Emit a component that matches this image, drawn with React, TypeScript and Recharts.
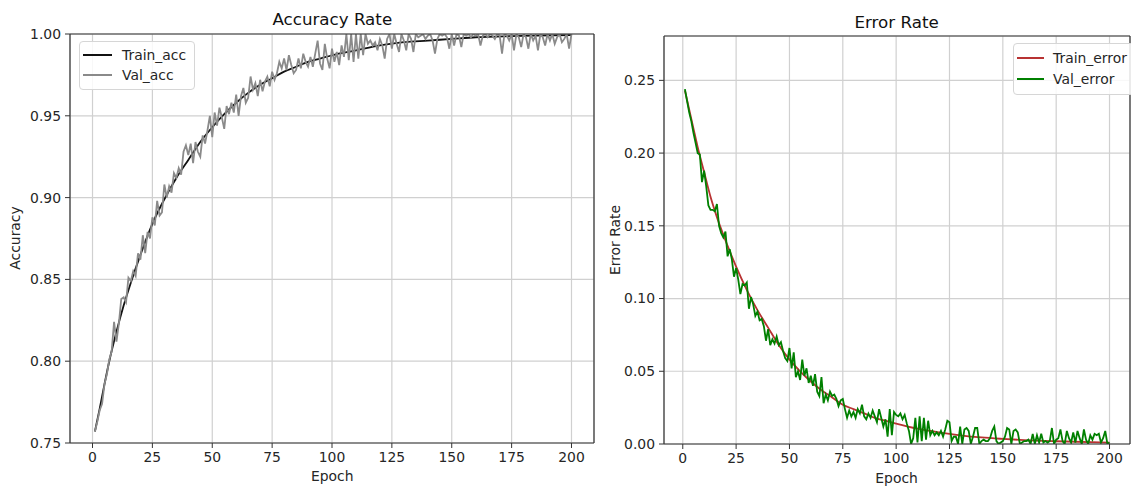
import { LineChart, Line, XAxis, YAxis, CartesianGrid, ReferenceLine } from 'recharts'

// epochs 1..200 for the validation curves
const EPOCHS = Array.from({ length: 200 }, (_, i) => i + 1)

// smooth training curves, read at a coarser set of epochs
const TRAIN_EPOCHS = [1, 3, 5, 7, 10, 13, 16, 20, 25, 30, 35, 40, 45, 50, 55, 60, 65, 70, 75, 80, 85, 90, 95, 100, 110, 120, 130, 140, 150, 160, 175, 200]
const TRAIN_ACC = [0.757, 0.771, 0.786, 0.8, 0.818, 0.834, 0.848, 0.865, 0.884, 0.899, 0.912, 0.923, 0.934, 0.943, 0.951, 0.958, 0.964, 0.969, 0.973, 0.977, 0.98, 0.983, 0.985, 0.987, 0.99, 0.993, 0.995, 0.996, 0.997, 0.998, 0.9987, 0.9993]
const TRAIN_ERR = [0.243, 0.23, 0.217, 0.204, 0.187, 0.17, 0.156, 0.14, 0.122, 0.106, 0.092, 0.08, 0.068, 0.058, 0.05, 0.043, 0.037, 0.032, 0.027, 0.024, 0.021, 0.018, 0.016, 0.014, 0.0105, 0.008, 0.006, 0.0045, 0.0035, 0.0027, 0.0019, 0.001]

const VAL_ACC = [
  0.757, 0.763, 0.770, 0.774, 0.786, 0.792, 0.801, 0.806, 0.824, 0.812,
  0.823, 0.838, 0.839, 0.836, 0.851, 0.849, 0.855, 0.852, 0.866, 0.862,
  0.877, 0.866, 0.879, 0.875, 0.888, 0.883, 0.898, 0.889, 0.891, 0.908,
  0.900, 0.907, 0.903, 0.915, 0.912, 0.918, 0.914, 0.928, 0.932, 0.926,
  0.933, 0.921, 0.934, 0.928, 0.925, 0.938, 0.933, 0.941, 0.950, 0.937,
  0.952, 0.944, 0.955, 0.949, 0.942, 0.956, 0.951, 0.958, 0.952, 0.963,
  0.950, 0.962, 0.967, 0.958, 0.961, 0.974, 0.966, 0.970, 0.962, 0.972,
  0.965, 0.971, 0.974, 0.968, 0.977, 0.972, 0.976, 0.983, 0.979, 0.985,
  0.978, 0.987, 0.981, 0.976, 0.978, 0.985, 0.979, 0.988, 0.983, 0.980,
  0.986, 0.980, 0.988, 0.996, 0.982, 0.978, 0.994, 0.985, 0.979, 0.991,
  0.983, 0.989, 0.981, 0.993, 0.986, 1.0, 0.984, 1.0, 0.983, 1.0,
  0.985, 1.0, 0.987, 1.0, 0.994, 0.996, 0.993, 0.995, 0.990, 0.997,
  0.993, 0.985, 0.997, 1.0, 0.991, 1.0, 0.994, 0.989, 1.0, 0.996,
  0.990, 1.0, 0.997, 0.989, 1.0, 0.998, 0.999, 1.0, 0.997, 0.999,
  1.0, 0.996, 0.988, 0.997, 1.0, 0.999, 1.0, 0.998, 0.991, 1.0,
  0.993, 1.0, 0.999, 0.992, 1.0, 0.999, 1.0, 0.998, 1.0, 0.999,
  1.0, 0.993, 0.999, 1.0, 0.998, 1.0, 0.999, 0.997, 1.0, 0.999,
  0.988, 1.0, 0.999, 0.996, 1.0, 0.990, 1.0, 0.998, 0.992, 1.0,
  0.998, 0.991, 1.0, 0.996, 0.999, 0.990, 1.0, 0.998, 0.993, 1.0,
  0.996, 1.0, 0.994, 0.998, 1.0, 0.995, 0.997, 1.0, 0.991, 1.0,
]

const VAL_ERR = [
  0.244, 0.236, 0.228, 0.222, 0.214, 0.207, 0.200, 0.199, 0.180, 0.188,
  0.177, 0.164, 0.161, 0.161, 0.160, 0.165, 0.150, 0.145, 0.142, 0.146,
  0.129, 0.134, 0.127, 0.115, 0.121, 0.113, 0.103, 0.110, 0.109, 0.111,
  0.093, 0.101, 0.096, 0.088, 0.091, 0.085, 0.086, 0.081, 0.071, 0.079,
  0.068, 0.072, 0.069, 0.074, 0.068, 0.070, 0.064, 0.059, 0.057, 0.066,
  0.052, 0.063, 0.046, 0.050, 0.044, 0.058, 0.047, 0.052, 0.042, 0.047,
  0.040, 0.048, 0.036, 0.033, 0.046, 0.028, 0.034, 0.030, 0.036, 0.033,
  0.034, 0.031, 0.026, 0.030, 0.031, 0.024, 0.018, 0.023, 0.019, 0.022,
  0.018, 0.024, 0.021, 0.027, 0.019, 0.017, 0.021, 0.018, 0.023, 0.019,
  0.015, 0.024, 0.018, 0.012, 0.017, 0.005, 0.024, 0.006, 0.022, 0.020,
  0.019, 0.021, 0.017, 0.020, 0.014, 0.009, 0.000, 0.004, 0.018, 0.001,
  0.019, 0.002, 0.018, 0.003, 0.016, 0.006, 0.009, 0.006, 0.008, 0.006,
  0.009, 0.005, 0.010, 0.016, 0.015, 0.002, 0.005, 0.005, 0.000, 0.012,
  0.000, 0.010, 0.011, 0.009, 0.000, 0.005, 0.011, 0.011, 0.000, 0.002,
  0.003, 0.002, 0.002, 0.004, 0.009, 0.012, 0.002, 0.000, 0.001, 0.002,
  0.005, 0.011, 0.010, 0.000, 0.009, 0.010, 0.008, 0.000, 0.001, 0.002,
  0.002, 0.003, 0.000, 0.007, 0.000, 0.006, 0.001, 0.007, 0.001, 0.002,
  0.001, 0.002, 0.011, 0.000, 0.003, 0.004, 0.010, 0.002, 0.000, 0.009,
  0.004, 0.001, 0.008, 0.001, 0.009, 0.004, 0.000, 0.010, 0.003, 0.000,
  0.006, 0.003, 0.007, 0.006, 0.007, 0.001, 0.004, 0.009, 0.000, 0.001,
]

const X_TICKS = [0, 25, 50, 75, 100, 125, 150, 175, 200]
const ACC_TICKS = [0.75, 0.8, 0.85, 0.9, 0.95, 1.0]
const ERR_TICKS = [0, 0.05, 0.1, 0.15, 0.2, 0.25]

const valData = EPOCHS.map((epoch, i) => ({ epoch, valAcc: VAL_ACC[i], valErr: VAL_ERR[i] }))
const trainData = TRAIN_EPOCHS.map((epoch, i) => ({ epoch, trainAcc: TRAIN_ACC[i], trainErr: TRAIN_ERR[i] }))

const FONT = "'DejaVu Sans', sans-serif"
const TEXT = '#262626'
const SPINE = '#333333'
const tick = { fontSize: 13.9, fill: TEXT, fontFamily: FONT }

function LegendBox({ left, top, rowH, sample, gap, items }: { left: number; top: number; rowH: number; sample: number; gap: number; items: { label: string; color: string }[] }) {
  return (
    <div style={{
      position: 'absolute', left, top, padding: '3px 8px 4px 3px',
      background: 'rgba(255,255,255,0.85)', border: '1px solid #d6d6d6', borderRadius: 4,
      fontFamily: FONT, fontSize: 13.9, color: TEXT,
    }}>
      {items.map(it => (
        <div key={it.label} style={{ height: rowH, display: 'flex', alignItems: 'center' }}>
          <span style={{ display: 'inline-block', width: sample, height: 2, background: it.color, marginRight: gap }} />
          <span>{it.label}</span>
        </div>
      ))}
    </div>
  )
}

export default function App() {
  return (
    <div style={{ position: 'absolute', left: 0, top: 0, width: 1131, height: 488, background: '#fff', overflow: 'hidden' }}>
      <div style={{ position: 'absolute', left: 0, top: 0 }}>
        <LineChart width={600} height={488} data={valData} margin={{ top: 34, right: 6, bottom: 0, left: 8 }}>
          <CartesianGrid stroke="#d0d0d0" strokeWidth={1.2} />
          <XAxis type="number" dataKey="epoch" domain={[-9.4, 209.4]} ticks={X_TICKS} interval={0} allowDataOverflow
            height={45} tick={tick} tickSize={5} tickMargin={4}
            tickLine={{ stroke: SPINE }} axisLine={{ stroke: SPINE, strokeWidth: 1.2 }} />
          <YAxis type="number" domain={[0.75, 1.0]} ticks={ACC_TICKS} interval={0} allowDataOverflow
            width={62} tick={tick} tickSize={5} tickMargin={4} tickFormatter={(v: number) => v.toFixed(2)}
            tickLine={{ stroke: SPINE }} axisLine={{ stroke: SPINE, strokeWidth: 1.2 }} />
          <Line data={trainData} dataKey="trainAcc" type="monotone" stroke="#111111" strokeWidth={1.8} dot={false} isAnimationActive={false} />
          <Line dataKey="valAcc" type="linear" stroke="#8a8a8a" strokeWidth={1.8} dot={false} isAnimationActive={false} />
          <ReferenceLine y={1.0} stroke={SPINE} strokeWidth={1.2} />
          <ReferenceLine x={209.4} stroke={SPINE} strokeWidth={1.2} />
        </LineChart>
      </div>

      <div style={{ position: 'absolute', left: 600, top: 0 }}>
        <LineChart width={531} height={488} data={valData} margin={{ top: 36, right: 1, bottom: 0, left: 8 }}>
          <CartesianGrid stroke="#d0d0d0" strokeWidth={1.2} />
          <XAxis type="number" dataKey="epoch" domain={[-8.8, 209.6]} ticks={X_TICKS} interval={0} allowDataOverflow
            height={44} tick={tick} tickSize={5} tickMargin={4}
            tickLine={{ stroke: SPINE }} axisLine={{ stroke: SPINE, strokeWidth: 1.2 }} />
          <YAxis type="number" domain={[0, 0.2805]} ticks={ERR_TICKS} interval={0} allowDataOverflow
            width={56} tick={tick} tickSize={5} tickMargin={4} tickFormatter={(v: number) => v.toFixed(2)}
            tickLine={{ stroke: SPINE }} axisLine={{ stroke: SPINE, strokeWidth: 1.2 }} />
          <Line data={trainData} dataKey="trainErr" type="monotone" stroke="#b83232" strokeWidth={1.8} dot={false} isAnimationActive={false} />
          <Line dataKey="valErr" type="linear" stroke="#008000" strokeWidth={1.8} dot={false} isAnimationActive={false} />
          <ReferenceLine y={0.2805} stroke={SPINE} strokeWidth={1.2} />
          <ReferenceLine x={209.6} stroke={SPINE} strokeWidth={1.2} />
        </LineChart>
      </div>

      <svg width={1131} height={488} style={{ position: 'absolute', left: 0, top: 0, pointerEvents: 'none' }}>
        <g fontFamily={FONT} fill={TEXT}>
          <text x={332.3} y={25} fontSize={16.7} textAnchor="middle" fill="#111">Accuracy Rate</text>
          <text x={896.6} y={27.5} fontSize={16.7} textAnchor="middle" fill="#111">Error Rate</text>
          <text x={332.3} y={481} fontSize={13.9} textAnchor="middle">Epoch</text>
          <text x={896.6} y={483} fontSize={13.9} textAnchor="middle">Epoch</text>
          <text x={19.5} y={238} fontSize={13.9} textAnchor="middle" transform="rotate(-90 19.5 238)">Accuracy</text>
          <text x={619.6} y={240} fontSize={13.9} textAnchor="middle" transform="rotate(-90 619.6 240)">Error Rate</text>
        </g>
      </svg>

      <LegendBox left={79} top={41} rowH={20} sample={29} gap={10}
        items={[{ label: 'Train_acc', color: '#111111' }, { label: 'Val_acc', color: '#8a8a8a' }]} />
      <LegendBox left={1013} top={43} rowH={21.5} sample={27} gap={9}
        items={[{ label: 'Train_error', color: '#b83232' }, { label: 'Val_error', color: '#008000' }]} />
    </div>
  )
}
